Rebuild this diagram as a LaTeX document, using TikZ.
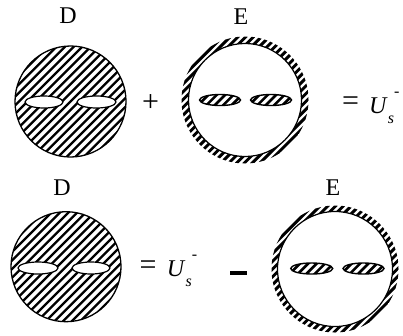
\documentclass[tikz,border=0pt]{standalone}
\usepackage{fontspec}
\setmainfont{Liberation Serif}
\usetikzlibrary{shapes.geometric}
\newcommand{\UsMark}{\textit{U}\raisebox{-0.42em}{\fontsize{16}{16}\selectfont\textit{s}}\raisebox{0.72em}{\fontsize{16}{16}\selectfont -}}
% hatch lines (lower-left to upper-right): cx, cy, half extent, horizontal spacing, line width
\newcommand{\hatchfill}[5]{%
  \foreach \i in {-24,...,24}{%
    \pgfmathsetmacro{\hof}{\i*#4}%
    \draw[line width=#5] ({#1+\hof-#3},{#2+#3}) -- ({#1+\hof+#3},{#2-#3});
  }}
\tikzset{
  lbl/.style={font=\fontsize{24}{28}\selectfont, inner sep=0pt},
  opsym/.style={font=\fontsize{30}{34}\selectfont, inner sep=0pt},
  usym/.style={font=\fontsize{24}{28}\selectfont, inner sep=0pt, anchor=base west},
  outline/.style={line width=1.3pt},
  hole/.style={circle, draw, line width=1.2pt, fill=white, inner sep=0pt},
  wslot/.style={ellipse, draw, line width=1.2pt, fill=white, inner sep=0pt},
  hslotline/.style={ellipse, draw, line width=1.4pt, inner sep=0pt},
}
\begin{document}
\begin{tikzpicture}[x=1pt,y=-1pt]
\useasboundingbox (0,0) rectangle (403,335);
% ---- top row: D ----
\node[lbl] (dlabA) at (68,15.2) {D};
\begin{scope}
  \clip (70.5,101.5) circle (55.5);
  \hatchfill{70.5}{101.5}{56}{8.6}{2.3pt}
\end{scope}
\node[circle, draw, outline, minimum size=111pt, inner sep=0pt] (dA) at (70.5,101.5) {};
\node[wslot, minimum width=38pt, minimum height=12pt] (dA1) at (44,102) {};
\node[wslot, minimum width=39pt, minimum height=12pt] (dA2) at (96.5,102) {};
\node[opsym] (plus) at (150.5,103.3) {+};
% ---- top row: E ----
\node[lbl] (elabA) at (241,16.5) {E};
\begin{scope}
  \clip (245,100) circle (63.5);
  \hatchfill{245}{100}{64}{7.8}{2.9pt}
\end{scope}
\node[hole, minimum size=113pt] (eAin) at (245,100) {};
\begin{scope}
  \clip (220,100) ellipse (20.5 and 5.5);
  \hatchfill{220}{100}{22}{8.4}{2.6pt}
\end{scope}
\node[hslotline, minimum width=41pt, minimum height=11pt] (eA1) at (220,100) {};
\begin{scope}
  \clip (271,100) ellipse (20.5 and 5.5);
  \hatchfill{271}{100}{22}{8.4}{2.6pt}
\end{scope}
\node[hslotline, minimum width=41pt, minimum height=11pt] (eA2) at (271,100) {};
\node[opsym] (eqA) at (350.5,104) {=};
\node[usym] (uA) at (369,113.3) {\UsMark};
% ---- bottom row: D ----
\node[lbl] (dlabB) at (62,188) {D};
\begin{scope}
  \clip (66,266.7) circle (55);
  \hatchfill{66}{266.7}{56}{8.6}{2.3pt}
\end{scope}
\node[circle, draw, outline, minimum size=110pt, inner sep=0pt] (dB) at (66,266.7) {};
\node[wslot, minimum width=40pt, minimum height=12pt] (dB1) at (38,268) {};
\node[wslot, minimum width=38pt, minimum height=12pt] (dB2) at (91,268) {};
\node[opsym] (eqB) at (148,268) {=};
\node[usym] (uB) at (166.7,276.7) {\UsMark};
\node[fill=black, inner sep=0pt, minimum width=17pt, minimum height=4pt] (minus) at (238,273) {};
% ---- bottom row: E ----
\node[lbl] (elabB) at (333,188) {E};
\begin{scope}
  \clip (335,269) circle (63.5);
  \hatchfill{335}{269}{64}{7.8}{2.9pt}
\end{scope}
\node[hole, minimum size=115pt] (eBin) at (335,269) {};
\begin{scope}
  \clip (311.7,268.5) ellipse (21 and 5.5);
  \hatchfill{311.7}{268.5}{22}{8.4}{2.6pt}
\end{scope}
\node[hslotline, minimum width=42pt, minimum height=11pt] (eB1) at (311.7,268.5) {};
\begin{scope}
  \clip (363.5,268.5) ellipse (20.5 and 5.5);
  \hatchfill{363.5}{268.5}{22}{8.4}{2.6pt}
\end{scope}
\node[hslotline, minimum width=41pt, minimum height=11pt] (eB2) at (363.5,268.5) {};
\end{tikzpicture}
\end{document}
